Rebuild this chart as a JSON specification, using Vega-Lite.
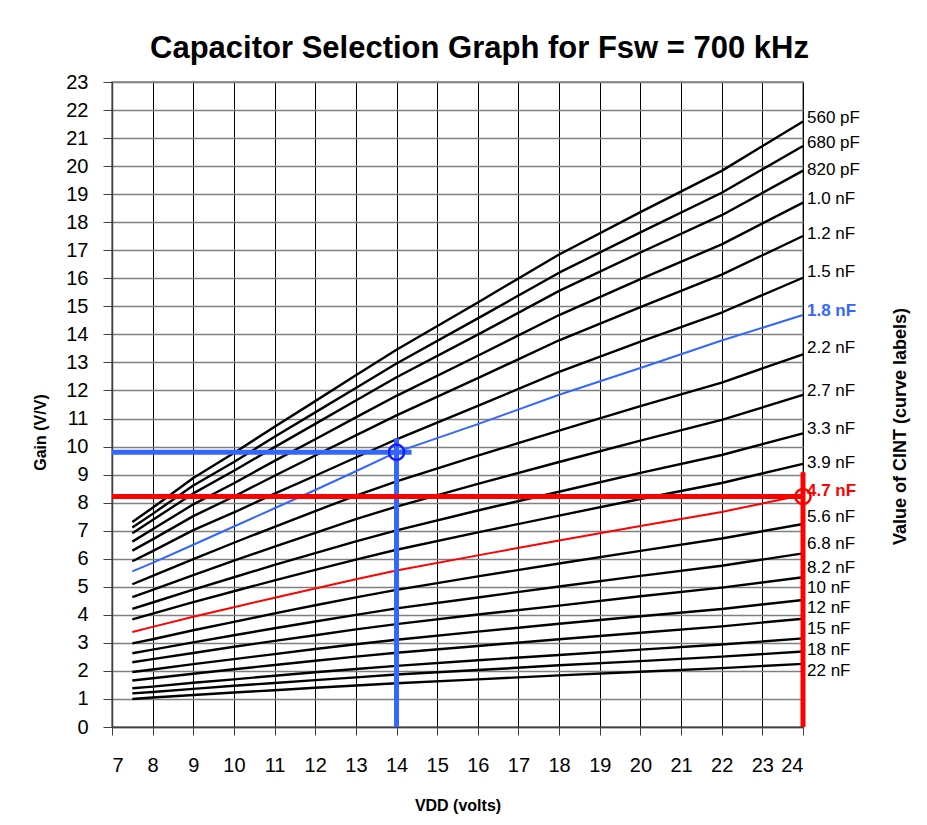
{
"$schema":"https://vega.github.io/schema/vega-lite/v6.json",
"width":691,"height":645,
"autosize":{"type":"none"},
"padding":{"left":112,"top":82,"right":124,"bottom":98},
"background":"white",
"title":{"text":"Capacitor Selection Graph for Fsw = 700 kHz","fontSize":31,"fontWeight":"bold","font":"Liberation Sans","color":"black","anchor":"middle","frame":"group","dx":22,"dy":41,"offset":24,"baseline":"alphabetic"},
"config":{"font":"Liberation Sans","view":{"stroke":"#808080","strokeWidth":1.5}},
"datasets":{
"curves":[
{"c":"560 pF","x":7.5,"y":7.31},{"c":"560 pF","x":8,"y":7.82},{"c":"560 pF","x":9,"y":8.88},{"c":"560 pF","x":10,"y":9.77},{"c":"560 pF","x":11,"y":10.71},{"c":"560 pF","x":12,"y":11.62},{"c":"560 pF","x":13,"y":12.54},{"c":"560 pF","x":14,"y":13.45},{"c":"560 pF","x":16,"y":15.14},{"c":"560 pF","x":18,"y":16.85},{"c":"560 pF","x":20,"y":18.36},{"c":"560 pF","x":22,"y":19.83},{"c":"560 pF","x":24,"y":21.59},
{"c":"680 pF","x":7.5,"y":7.11},{"c":"680 pF","x":8,"y":7.60},{"c":"680 pF","x":9,"y":8.61},{"c":"680 pF","x":10,"y":9.45},{"c":"680 pF","x":11,"y":10.35},{"c":"680 pF","x":12,"y":11.22},{"c":"680 pF","x":13,"y":12.09},{"c":"680 pF","x":14,"y":12.96},{"c":"680 pF","x":16,"y":14.57},{"c":"680 pF","x":18,"y":16.20},{"c":"680 pF","x":20,"y":17.64},{"c":"680 pF","x":22,"y":19.05},{"c":"680 pF","x":24,"y":20.72},
{"c":"820 pF","x":7.5,"y":6.91},{"c":"820 pF","x":8,"y":7.38},{"c":"820 pF","x":9,"y":8.33},{"c":"820 pF","x":10,"y":9.14},{"c":"820 pF","x":11,"y":9.98},{"c":"820 pF","x":12,"y":10.81},{"c":"820 pF","x":13,"y":11.64},{"c":"820 pF","x":14,"y":12.47},{"c":"820 pF","x":16,"y":13.99},{"c":"820 pF","x":18,"y":15.55},{"c":"820 pF","x":20,"y":16.92},{"c":"820 pF","x":22,"y":18.25},{"c":"820 pF","x":24,"y":19.84},
{"c":"1.0 nF","x":7.5,"y":6.61},{"c":"1.0 nF","x":8,"y":7.05},{"c":"1.0 nF","x":9,"y":7.94},{"c":"1.0 nF","x":10,"y":8.69},{"c":"1.0 nF","x":11,"y":9.49},{"c":"1.0 nF","x":12,"y":10.26},{"c":"1.0 nF","x":13,"y":11.04},{"c":"1.0 nF","x":14,"y":11.81},{"c":"1.0 nF","x":16,"y":13.24},{"c":"1.0 nF","x":18,"y":14.69},{"c":"1.0 nF","x":20,"y":15.97},{"c":"1.0 nF","x":22,"y":17.21},{"c":"1.0 nF","x":24,"y":18.70},
{"c":"1.2 nF","x":7.5,"y":6.29},{"c":"1.2 nF","x":8,"y":6.69},{"c":"1.2 nF","x":9,"y":7.52},{"c":"1.2 nF","x":10,"y":8.22},{"c":"1.2 nF","x":11,"y":8.96},{"c":"1.2 nF","x":12,"y":9.68},{"c":"1.2 nF","x":13,"y":10.40},{"c":"1.2 nF","x":14,"y":11.11},{"c":"1.2 nF","x":16,"y":12.44},{"c":"1.2 nF","x":18,"y":13.79},{"c":"1.2 nF","x":20,"y":14.97},{"c":"1.2 nF","x":22,"y":16.13},{"c":"1.2 nF","x":24,"y":17.51},
{"c":"1.5 nF","x":7.5,"y":5.91},{"c":"1.5 nF","x":8,"y":6.27},{"c":"1.5 nF","x":9,"y":7.02},{"c":"1.5 nF","x":10,"y":7.65},{"c":"1.5 nF","x":11,"y":8.32},{"c":"1.5 nF","x":12,"y":8.96},{"c":"1.5 nF","x":13,"y":9.61},{"c":"1.5 nF","x":14,"y":10.26},{"c":"1.5 nF","x":16,"y":11.45},{"c":"1.5 nF","x":18,"y":12.66},{"c":"1.5 nF","x":20,"y":13.74},{"c":"1.5 nF","x":22,"y":14.78},{"c":"1.5 nF","x":24,"y":16.02},
{"c":"1.8 nF","x":7.5,"y":5.55},{"c":"1.8 nF","x":8,"y":5.85},{"c":"1.8 nF","x":9,"y":6.50},{"c":"1.8 nF","x":10,"y":7.15},{"c":"1.8 nF","x":11,"y":7.80},{"c":"1.8 nF","x":12,"y":8.45},{"c":"1.8 nF","x":13,"y":9.12},{"c":"1.8 nF","x":14,"y":9.80},{"c":"1.8 nF","x":16,"y":10.80},{"c":"1.8 nF","x":18,"y":11.85},{"c":"1.8 nF","x":20,"y":12.80},{"c":"1.8 nF","x":22,"y":13.78},{"c":"1.8 nF","x":24,"y":14.69},
{"c":"2.2 nF","x":7.5,"y":5.09},{"c":"2.2 nF","x":8,"y":5.39},{"c":"2.2 nF","x":9,"y":5.99},{"c":"2.2 nF","x":10,"y":6.57},{"c":"2.2 nF","x":11,"y":7.14},{"c":"2.2 nF","x":12,"y":7.70},{"c":"2.2 nF","x":13,"y":8.25},{"c":"2.2 nF","x":14,"y":8.76},{"c":"2.2 nF","x":16,"y":9.68},{"c":"2.2 nF","x":18,"y":10.57},{"c":"2.2 nF","x":20,"y":11.44},{"c":"2.2 nF","x":22,"y":12.28},{"c":"2.2 nF","x":24,"y":13.29},
{"c":"2.7 nF","x":7.5,"y":4.63},{"c":"2.7 nF","x":8,"y":4.89},{"c":"2.7 nF","x":9,"y":5.42},{"c":"2.7 nF","x":10,"y":5.93},{"c":"2.7 nF","x":11,"y":6.43},{"c":"2.7 nF","x":12,"y":6.92},{"c":"2.7 nF","x":13,"y":7.41},{"c":"2.7 nF","x":14,"y":7.86},{"c":"2.7 nF","x":16,"y":8.67},{"c":"2.7 nF","x":18,"y":9.45},{"c":"2.7 nF","x":20,"y":10.21},{"c":"2.7 nF","x":22,"y":10.95},{"c":"2.7 nF","x":24,"y":11.84},
{"c":"3.3 nF","x":7.5,"y":4.21},{"c":"3.3 nF","x":8,"y":4.44},{"c":"3.3 nF","x":9,"y":4.90},{"c":"3.3 nF","x":10,"y":5.34},{"c":"3.3 nF","x":11,"y":5.78},{"c":"3.3 nF","x":12,"y":6.20},{"c":"3.3 nF","x":13,"y":6.62},{"c":"3.3 nF","x":14,"y":7.01},{"c":"3.3 nF","x":16,"y":7.72},{"c":"3.3 nF","x":18,"y":8.39},{"c":"3.3 nF","x":20,"y":9.06},{"c":"3.3 nF","x":22,"y":9.70},{"c":"3.3 nF","x":24,"y":10.47},
{"c":"3.9 nF","x":7.5,"y":3.84},{"c":"3.9 nF","x":8,"y":4.04},{"c":"3.9 nF","x":9,"y":4.45},{"c":"3.9 nF","x":10,"y":4.84},{"c":"3.9 nF","x":11,"y":5.23},{"c":"3.9 nF","x":12,"y":5.60},{"c":"3.9 nF","x":13,"y":5.97},{"c":"3.9 nF","x":14,"y":6.32},{"c":"3.9 nF","x":16,"y":6.94},{"c":"3.9 nF","x":18,"y":7.54},{"c":"3.9 nF","x":20,"y":8.13},{"c":"3.9 nF","x":22,"y":8.70},{"c":"3.9 nF","x":24,"y":9.38},
{"c":"4.7 nF","x":7.5,"y":3.39},{"c":"4.7 nF","x":8,"y":3.57},{"c":"4.7 nF","x":9,"y":3.93},{"c":"4.7 nF","x":10,"y":4.27},{"c":"4.7 nF","x":11,"y":4.61},{"c":"4.7 nF","x":12,"y":4.94},{"c":"4.7 nF","x":13,"y":5.27},{"c":"4.7 nF","x":14,"y":5.58},{"c":"4.7 nF","x":16,"y":6.12},{"c":"4.7 nF","x":18,"y":6.65},{"c":"4.7 nF","x":20,"y":7.17},{"c":"4.7 nF","x":22,"y":7.67},{"c":"4.7 nF","x":24,"y":8.27},
{"c":"5.6 nF","x":7.5,"y":2.98},{"c":"5.6 nF","x":8,"y":3.13},{"c":"5.6 nF","x":9,"y":3.45},{"c":"5.6 nF","x":10,"y":3.75},{"c":"5.6 nF","x":11,"y":4.05},{"c":"5.6 nF","x":12,"y":4.34},{"c":"5.6 nF","x":13,"y":4.62},{"c":"5.6 nF","x":14,"y":4.89},{"c":"5.6 nF","x":16,"y":5.37},{"c":"5.6 nF","x":18,"y":5.83},{"c":"5.6 nF","x":20,"y":6.28},{"c":"5.6 nF","x":22,"y":6.72},{"c":"5.6 nF","x":24,"y":7.24},
{"c":"6.8 nF","x":7.5,"y":2.63},{"c":"6.8 nF","x":8,"y":2.76},{"c":"6.8 nF","x":9,"y":3.02},{"c":"6.8 nF","x":10,"y":3.27},{"c":"6.8 nF","x":11,"y":3.52},{"c":"6.8 nF","x":12,"y":3.76},{"c":"6.8 nF","x":13,"y":4.00},{"c":"6.8 nF","x":14,"y":4.23},{"c":"6.8 nF","x":16,"y":4.62},{"c":"6.8 nF","x":18,"y":5.01},{"c":"6.8 nF","x":20,"y":5.39},{"c":"6.8 nF","x":22,"y":5.75},{"c":"6.8 nF","x":24,"y":6.19},
{"c":"8.2 nF","x":7.5,"y":2.31},{"c":"8.2 nF","x":8,"y":2.42},{"c":"8.2 nF","x":9,"y":2.64},{"c":"8.2 nF","x":10,"y":2.86},{"c":"8.2 nF","x":11,"y":3.07},{"c":"8.2 nF","x":12,"y":3.27},{"c":"8.2 nF","x":13,"y":3.48},{"c":"8.2 nF","x":14,"y":3.67},{"c":"8.2 nF","x":16,"y":4.01},{"c":"8.2 nF","x":18,"y":4.33},{"c":"8.2 nF","x":20,"y":4.66},{"c":"8.2 nF","x":22,"y":4.97},{"c":"8.2 nF","x":24,"y":5.34},
{"c":"10 nF","x":7.5,"y":1.96},{"c":"10 nF","x":8,"y":2.05},{"c":"10 nF","x":9,"y":2.24},{"c":"10 nF","x":10,"y":2.42},{"c":"10 nF","x":11,"y":2.60},{"c":"10 nF","x":12,"y":2.78},{"c":"10 nF","x":13,"y":2.95},{"c":"10 nF","x":14,"y":3.11},{"c":"10 nF","x":16,"y":3.40},{"c":"10 nF","x":18,"y":3.68},{"c":"10 nF","x":20,"y":3.95},{"c":"10 nF","x":22,"y":4.21},{"c":"10 nF","x":24,"y":4.53},
{"c":"12 nF","x":7.5,"y":1.66},{"c":"12 nF","x":8,"y":1.74},{"c":"12 nF","x":9,"y":1.90},{"c":"12 nF","x":10,"y":2.06},{"c":"12 nF","x":11,"y":2.21},{"c":"12 nF","x":12,"y":2.36},{"c":"12 nF","x":13,"y":2.51},{"c":"12 nF","x":14,"y":2.65},{"c":"12 nF","x":16,"y":2.89},{"c":"12 nF","x":18,"y":3.13},{"c":"12 nF","x":20,"y":3.36},{"c":"12 nF","x":22,"y":3.59},{"c":"12 nF","x":24,"y":3.86},
{"c":"15 nF","x":7.5,"y":1.38},{"c":"15 nF","x":8,"y":1.44},{"c":"15 nF","x":9,"y":1.58},{"c":"15 nF","x":10,"y":1.70},{"c":"15 nF","x":11,"y":1.83},{"c":"15 nF","x":12,"y":1.95},{"c":"15 nF","x":13,"y":2.07},{"c":"15 nF","x":14,"y":2.18},{"c":"15 nF","x":16,"y":2.38},{"c":"15 nF","x":18,"y":2.57},{"c":"15 nF","x":20,"y":2.76},{"c":"15 nF","x":22,"y":2.94},{"c":"15 nF","x":24,"y":3.16},
{"c":"18 nF","x":7.5,"y":1.20},{"c":"18 nF","x":8,"y":1.25},{"c":"18 nF","x":9,"y":1.36},{"c":"18 nF","x":10,"y":1.47},{"c":"18 nF","x":11,"y":1.57},{"c":"18 nF","x":12,"y":1.67},{"c":"18 nF","x":13,"y":1.77},{"c":"18 nF","x":14,"y":1.87},{"c":"18 nF","x":16,"y":2.03},{"c":"18 nF","x":18,"y":2.20},{"c":"18 nF","x":20,"y":2.35},{"c":"18 nF","x":22,"y":2.51},{"c":"18 nF","x":24,"y":2.69},
{"c":"22 nF","x":7.5,"y":1.00},{"c":"22 nF","x":8,"y":1.05},{"c":"22 nF","x":9,"y":1.14},{"c":"22 nF","x":10,"y":1.23},{"c":"22 nF","x":11,"y":1.31},{"c":"22 nF","x":12,"y":1.40},{"c":"22 nF","x":13,"y":1.48},{"c":"22 nF","x":14,"y":1.56},{"c":"22 nF","x":16,"y":1.70},{"c":"22 nF","x":18,"y":1.84},{"c":"22 nF","x":20,"y":1.97},{"c":"22 nF","x":22,"y":2.10},{"c":"22 nF","x":24,"y":2.25}
],
"labels":[
{"c":"560 pF","x":24,"y":21.72},{"c":"680 pF","x":24,"y":20.83},{"c":"820 pF","x":24,"y":19.86},{"c":"1.0 nF","x":24,"y":18.83},{"c":"1.2 nF","x":24,"y":17.58},{"c":"1.5 nF","x":24,"y":16.23},{"c":"1.8 nF","x":24,"y":14.84},{"c":"2.2 nF","x":24,"y":13.52},{"c":"2.7 nF","x":24,"y":11.98},{"c":"3.3 nF","x":24,"y":10.63},{"c":"3.9 nF","x":24,"y":9.42},{"c":"4.7 nF","x":24,"y":8.42},{"c":"5.6 nF","x":24,"y":7.49},{"c":"6.8 nF","x":24,"y":6.53},{"c":"8.2 nF","x":24,"y":5.67},{"c":"10 nF","x":24,"y":4.96},{"c":"12 nF","x":24,"y":4.25},{"c":"15 nF","x":24,"y":3.50},{"c":"18 nF","x":24,"y":2.75},{"c":"22 nF","x":24,"y":2.00}
],
"blue":[{"x":7,"x2":14.37,"y":9.8,"y2":9.8},{"x":14,"x2":14,"y":0,"y2":10.3}],
"red":[{"x":7,"x2":24,"y":8.22,"y2":8.22},{"x":24,"x2":24,"y":0,"y2":9.08}],
"marks":[{"k":"blue","x":14,"y":9.8},{"k":"red","x":24,"y":8.22}]
},
"layer":[
{"data":{"name":"curves"},
 "mark":{"type":"line","strokeJoin":"round"},
 "encoding":{
  "x":{"field":"x","type":"quantitative","title":"VDD (volts)","scale":{"domain":[7,24],"nice":false,"zero":false},
   "axis":{"values":[7,8,9,10,11,12,13,14,15,16,17,18,19,20,21,22,23,24],"labelFontSize":20,"labelColor":"black","labelPadding":20,"tickSize":8,"tickColor":"#404040","domainColor":"#404040","domainWidth":1.5,"grid":true,"gridColor":"black","gridWidth":1,"gridOpacity":1,"titleFontSize":16,"titleFontWeight":"bold","titleColor":"black","titleY":78,"titleBaseline":"middle"}},
  "y":{"field":"y","type":"quantitative","title":"Gain (V/V)","scale":{"domain":[0,23],"nice":false,"zero":false},
   "axis":{"orient":"left","values":[0,1,2,3,4,5,6,7,8,9,10,11,12,13,14,15,16,17,18,19,20,21,22,23],"labelFontSize":20,"labelColor":"black","labelPadding":15,"tickSize":9,"tickColor":"#404040","domainColor":"#404040","domainWidth":1.5,"grid":true,"gridColor":"#808080","gridWidth":1.4,"gridOpacity":1,"titleFontSize":16,"titleFontWeight":"bold","titleColor":"black","titleX":-72,"titleY":350,"titleAngle":-90,"titleAlign":"center","titleBaseline":"middle"}},
  "detail":{"field":"c"},
  "color":{"condition":[{"test":"datum.c==='1.8 nF'","value":"#3366ff"},{"test":"datum.c==='4.7 nF'","value":"#ff0000"}],"value":"black"},
  "strokeWidth":{"condition":[{"test":"datum.c==='1.8 nF' || datum.c==='4.7 nF'","value":2}],"value":2.4}
 }},
{"data":{"name":"labels"},
 "transform":[{"filter":"datum.c!=='1.8 nF' && datum.c!=='4.7 nF'"}],
 "mark":{"type":"text","align":"left","baseline":"middle","dx":4,"fontSize":17,"color":"black"},
 "encoding":{
  "x":{"field":"x","type":"quantitative","title":"VDD (volts)"},
  "y":{"field":"y","type":"quantitative","axis":{"orient":"right","labels":false,"ticks":false,"domain":false,"grid":false,"title":"Value  of CINT (curve labels)","titleFontSize":18,"titleFontWeight":"bold","titleColor":"black","titleX":97,"titleY":344,"titleAngle":-90,"titleAlign":"center","titleBaseline":"middle"}},
  "text":{"field":"c"}
 }},
{"data":{"name":"labels"},
 "transform":[{"filter":"datum.c==='1.8 nF' || datum.c==='4.7 nF'"}],
 "mark":{"type":"text","align":"left","baseline":"middle","dx":4,"fontSize":17,"fontWeight":"bold"},
 "encoding":{
  "x":{"field":"x","type":"quantitative","title":"VDD (volts)"},
  "y":{"field":"y","type":"quantitative","axis":null},
  "text":{"field":"c"},
  "color":{"condition":[{"test":"datum.c==='1.8 nF'","value":"#3366ff"}],"value":"#ff0000"}
 }},
{"data":{"name":"blue"},
 "mark":{"type":"rule","color":"#3366ff","strokeWidth":5},
 "encoding":{"x":{"field":"x","type":"quantitative","title":"VDD (volts)"},"x2":{"field":"x2"},"y":{"field":"y","type":"quantitative","axis":null},"y2":{"field":"y2"}}},
{"data":{"name":"red"},
 "mark":{"type":"rule","color":"#ff0000","strokeWidth":5},
 "encoding":{"x":{"field":"x","type":"quantitative","title":"VDD (volts)"},"x2":{"field":"x2"},"y":{"field":"y","type":"quantitative","axis":null},"y2":{"field":"y2"}}},
{"data":{"name":"marks"},
 "mark":{"type":"point","shape":"circle","filled":false,"size":230,"strokeWidth":2.5,"opacity":1},
 "encoding":{"x":{"field":"x","type":"quantitative","title":"VDD (volts)"},"y":{"field":"y","type":"quantitative","axis":null},
  "color":{"condition":[{"test":"datum.k==='blue'","value":"#1a1aff"}],"value":"#ff0000"}}}
],
"resolve":{"axis":{"y":"independent"}}
}
